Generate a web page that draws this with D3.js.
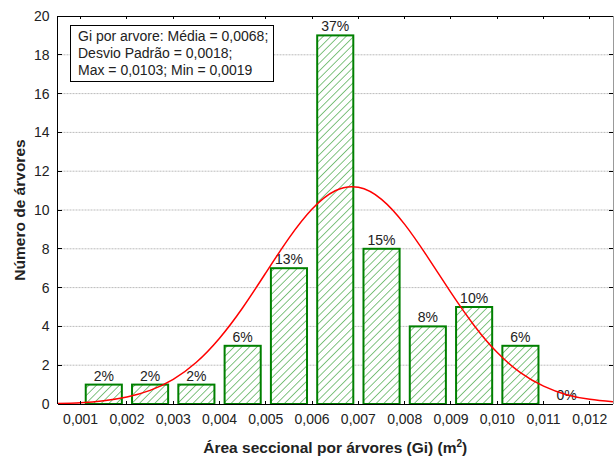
<!DOCTYPE html>
<html>
<head>
<meta charset="utf-8">
<script src="https://cdn.jsdelivr.net/npm/d3@7"></script>
<style>
  body { margin: 0; background: #fff; }
  text { font-family: "Liberation Sans", Arial, sans-serif; fill: #222; }
</style>
</head>
<body>
<div id="my_dataviz"></div>
<script>

// histogram bins (lower edge) and counts
let binStarts = [0.001, 0.002, 0.003, 0.004, 0.005, 0.006, 0.007, 0.008, 0.009, 0.010, 0.011];
let counts    = [1, 1, 1, 3, 7, 19, 8, 4, 5, 3, 0];
let pctLabels = ["2%", "2%", "2%", "6%", "13%", "37%", "15%", "8%", "10%", "6%", "0%"];
let binWidth = 0.001;

// fitted normal curve
let curveX = [0.0005, 0.001, 0.0015, 0.002, 0.0025, 0.003, 0.0035, 0.004, 0.0045, 0.005, 0.0055, 0.006, 0.0065,
              0.007, 0.0075, 0.008, 0.0085, 0.009, 0.0095, 0.010, 0.0105, 0.011, 0.0115, 0.012, 0.0125];
let curveY = [0.03, 0.07, 0.17, 0.36, 0.70, 1.27, 2.15, 3.39, 4.96, 6.76, 8.55, 10.05, 10.99,
              11.17, 10.55, 9.26, 7.56, 5.74, 4.05, 2.65, 1.62, 0.92, 0.48, 0.24, 0.11];

let xTicks = [0.001, 0.002, 0.003, 0.004, 0.005, 0.006, 0.007, 0.008, 0.009, 0.010, 0.011, 0.012];
let yTicks = [0, 2, 4, 6, 8, 10, 12, 14, 16, 18, 20];
let gridTicks = [2, 4, 6, 8, 10, 12, 14, 16, 18];

let legendLines = ["Gi por arvore: Média = 0,0068;", "Desvio Padrão = 0,0018;", "Max = 0,0103; Min = 0,0019"];

let W = 614, H = 456;
let plot = {left: 57.5, right: 613, top: 16, bottom: 404};

let svg = d3.select("#my_dataviz")
    .append("svg")
    .attr("width", W)
    .attr("height", H);

let x = d3.scaleLinear().domain([0.0005, 0.0125]).range([plot.left, plot.right]);
let y = d3.scaleLinear().domain([0, 20]).range([plot.bottom, plot.top]);

let defs = svg.append("defs");

let pat = defs.append("pattern")
    .attr("id", "hatch")
    .attr("patternUnits", "userSpaceOnUse")
    .attr("width", 5.4)
    .attr("height", 5.4)
    .attr("patternTransform", "rotate(45)");
pat.append("rect").attr("width", 5.4).attr("height", 5.4).attr("fill", "#fff");
pat.append("line")
    .attr("x1", 0).attr("y1", 0).attr("x2", 0).attr("y2", 5.4)
    .attr("stroke", "#3fa33f")
    .attr("stroke-width", 1.3);

defs.append("clipPath").attr("id", "plotclip")
    .append("rect")
    .attr("x", plot.left).attr("y", plot.top)
    .attr("width", plot.right - plot.left).attr("height", plot.bottom - plot.top);

// dotted grid
svg.append("g")
    .selectAll("line")
    .data(gridTicks)
    .enter().append("line")
    .attr("x1", plot.left).attr("x2", plot.right)
    .attr("y1", d => y(d)).attr("y2", d => y(d))
    .attr("stroke", "#bbb")
    .attr("stroke-width", 1)
    .attr("stroke-dasharray", "2,1");

// bars
let bins = binStarts.map((s, i) => ({ lo: s, hi: s + binWidth, n: counts[i], label: pctLabels[i] }));

let bars = svg.append("g");
bars.selectAll("rect")
    .data(bins.filter(d => d.n > 0))
    .enter().append("rect")
    .attr("x", d => x(d.lo) + (x(d.hi) - x(d.lo)) * 0.11)
    .attr("width", d => (x(d.hi) - x(d.lo)) * 0.78)
    .attr("y", d => y(d.n))
    .attr("height", d => y(0) - y(d.n))
    .attr("fill", "url(#hatch)")
    .attr("stroke", "#008000")
    .attr("stroke-width", 2);

bars.selectAll("text")
    .data(bins)
    .enter().append("text")
    .attr("x", d => x((d.lo + d.hi) / 2))
    .attr("y", d => y(d.n) - 4)
    .attr("text-anchor", "middle")
    .style("font-size", "14px")
    .text(d => d.label);

// normal curve
let line = d3.line()
    .x(d => x(d[0]))
    .y(d => y(d[1]))
    .curve(d3.curveNatural);

svg.append("path")
    .datum(curveX.map((v, i) => [v, curveY[i]]))
    .attr("clip-path", "url(#plotclip)")
    .attr("d", line)
    .attr("fill", "none")
    .attr("stroke", "#ff0000")
    .attr("stroke-width", 1.5);

// frame
let frame = svg.append("g").attr("stroke-width", 1).attr("shape-rendering", "crispEdges");
frame.append("line").attr("x1", plot.right).attr("x2", plot.right).attr("y1", plot.top).attr("y2", plot.bottom).attr("stroke", "#999");
frame.append("line").attr("x1", plot.left).attr("x2", plot.right).attr("y1", plot.top).attr("y2", plot.top).attr("stroke", "#000");
frame.append("line").attr("x1", plot.left).attr("x2", plot.right).attr("y1", plot.bottom).attr("y2", plot.bottom).attr("stroke", "#000");
frame.append("line").attr("x1", plot.left).attr("x2", plot.left).attr("y1", plot.top).attr("y2", plot.bottom).attr("stroke", "#000");

// inner tick marks
let ticks = svg.append("g").attr("stroke", "#000").attr("shape-rendering", "crispEdges");
ticks.selectAll(".xb").data(xTicks).enter().append("line")
    .attr("x1", d => x(d)).attr("x2", d => x(d)).attr("y1", plot.bottom).attr("y2", plot.bottom - 3);
ticks.selectAll(".xt").data(xTicks).enter().append("line")
    .attr("x1", d => x(d)).attr("x2", d => x(d)).attr("y1", plot.top).attr("y2", plot.top + 3);
ticks.selectAll(".yl").data(yTicks).enter().append("line")
    .attr("x1", plot.left).attr("x2", plot.left + 4).attr("y1", d => y(d)).attr("y2", d => y(d));
ticks.selectAll(".yr").data(yTicks).enter().append("line")
    .attr("x1", plot.right - 4).attr("x2", plot.right).attr("y1", d => y(d)).attr("y2", d => y(d));

// tick labels
let fmt = d3.format(".3f");
svg.append("g").selectAll("text")
    .data(xTicks)
    .enter().append("text")
    .attr("x", d => x(d))
    .attr("y", 424)
    .attr("text-anchor", "middle")
    .style("font-size", "14px")
    .text(d => fmt(d).replace(".", ","));

svg.append("g").selectAll("text")
    .data(yTicks)
    .enter().append("text")
    .attr("x", 49.5)
    .attr("y", d => y(d) + 5)
    .attr("text-anchor", "end")
    .style("font-size", "14px")
    .text(d => d);

// axis titles
let xt = svg.append("text")
    .attr("x", (plot.left + plot.right) / 2)
    .attr("y", 453)
    .attr("text-anchor", "middle")
    .style("font-size", "15.5px")
    .style("font-weight", "bold");
xt.append("tspan").text("Área seccional por árvores (Gi) (m");
xt.append("tspan").attr("dy", -6).style("font-size", "10px").text("2");
xt.append("tspan").attr("dy", 6).text(")");

svg.append("text")
    .attr("transform", "translate(25," + ((plot.top + plot.bottom) / 2) + ") rotate(-90)")
    .attr("text-anchor", "middle")
    .style("font-size", "15.5px")
    .style("font-weight", "bold")
    .text("Número de árvores");

// legend box
let leg = svg.append("g");
leg.append("rect")
    .attr("x", 70.5).attr("y", 25.5)
    .attr("width", 203).attr("height", 56)
    .attr("fill", "#fff")
    .attr("stroke", "#000")
    .attr("stroke-width", 1);
leg.selectAll("text")
    .data(legendLines)
    .enter().append("text")
    .attr("x", 78)
    .attr("y", (d, i) => 41 + i * 17.2)
    .style("font-size", "14px")
    .text(d => d);

</script>
</body>
</html>
